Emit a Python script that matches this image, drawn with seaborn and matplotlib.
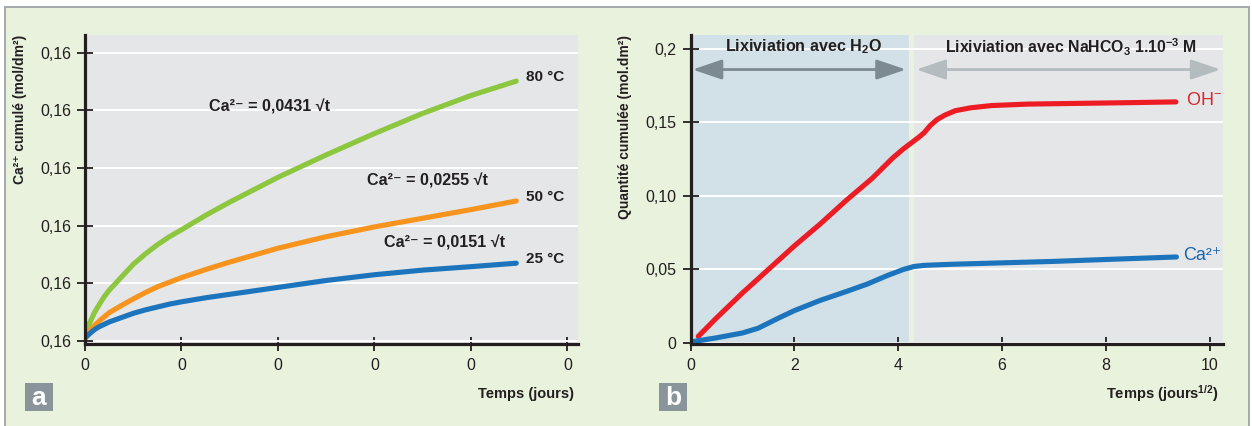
import matplotlib
matplotlib.use("Agg")
import pandas as pd
import seaborn as sns
import matplotlib.pyplot as plt
from matplotlib.patches import Rectangle, FancyArrowPatch

# ---- panel a : cumulated Ca2+ vs time, three temperatures
temps_a = [0, 0.05, 0.1, 0.15, 0.2, 0.25, 0.35, 0.5, 0.625, 0.75, 0.875, 1.0, 1.25,
           1.5, 2.0, 2.5, 3.0, 3.5, 4.0, 4.47]
ca_80 = [0.14, 0.32, 0.5, 0.64, 0.77, 0.88, 1.06, 1.33, 1.51, 1.67, 1.81, 1.93, 2.18,
         2.41, 2.84, 3.23, 3.6, 3.95, 4.26, 4.51]
ca_50 = [0.1, 0.18, 0.27, 0.35, 0.42, 0.49, 0.59, 0.73, 0.84, 0.94, 1.02, 1.1, 1.24,
         1.37, 1.61, 1.81, 1.98, 2.13, 2.28, 2.43]
ca_25 = [0.05, 0.13, 0.2, 0.25, 0.29, 0.33, 0.39, 0.48, 0.54, 0.59, 0.64, 0.68, 0.75,
         0.81, 0.93, 1.05, 1.15, 1.23, 1.29, 1.35]
series_a = ["80 °C", "50 °C", "25 °C"]
equations_a = ["Ca²⁻ = 0,0431 √t", "Ca²⁻ = 0,0255 √t", "Ca²⁻ = 0,0151 √t"]
xticks_a = [0, 1, 2, 3, 4, 5]
xticklabels_a = ["0", "0", "0", "0", "0", "0"]
yticks_a = [0, 1, 2, 3, 4, 5]
yticklabels_a = ["0,16", "0,16", "0,16", "0,16", "0,16", "0,16"]

# ---- panel b : OH- and Ca2+ vs sqrt(time)
temps_oh = [0.15, 0.5, 1.0, 1.5, 2.0, 2.5, 3.0, 3.5, 3.9, 4.1, 4.25, 4.4, 4.5, 4.62,
            4.75, 4.9, 5.1, 5.4, 5.8, 6.5, 7.5, 8.5, 9.35]
oh = [0.0045, 0.017, 0.034, 0.05, 0.066, 0.081, 0.097, 0.112, 0.126, 0.132, 0.136,
      0.14, 0.143, 0.148, 0.152, 0.155, 0.158, 0.16, 0.1615, 0.1625, 0.163, 0.1635, 0.164]
temps_ca = [0, 0.5, 1.0, 1.3, 1.7, 2.0, 2.5, 3.0, 3.4, 3.8, 4.1, 4.3, 4.5, 5.0, 6.0,
            7.0, 8.0, 9.36]
ca = [0.0007, 0.0035, 0.0068, 0.01, 0.017, 0.022, 0.029, 0.035, 0.04, 0.046, 0.05,
      0.052, 0.0528, 0.0535, 0.0545, 0.0555, 0.0568, 0.0585]
phase_end = 4.21
phase2_start = 4.30
xticks_b = [0, 2, 4, 6, 8, 10]
yticks_b = [0, 0.05, 0.10, 0.15, 0.2]
yticklabels_b = ["0", "0,05", "0,10", "0,15", "0,2"]

GREEN_BG = "#e9f2dd"
PLOT_BG = "#e5e6e8"
BLUE_BG = "#d2e0e7"
DARK = "#231f20"
colors_a = {"80 °C": "#8dc63f", "50 °C": "#f7941d", "25 °C": "#1c75bc"}
FAM = ["Liberation Sans", "DejaVu Sans"]

sns.set_style("ticks")
plt.rcParams["font.family"] = FAM
plt.rcParams["mathtext.default"] = "regular"

W, H = 1252, 426
fig = plt.figure(figsize=(W / 100, H / 100), dpi=100, facecolor="white")

# outer frame
fig.patches.append(Rectangle((5 / W, -0.05), (1249 - 5) / W, 1.05 - 7 / H,
                             transform=fig.transFigure, facecolor=GREEN_BG,
                             edgecolor="#9ea3a6", linewidth=1.3, zorder=-5))


def style_axes(ax):
    ax.set_facecolor(PLOT_BG)
    for side in ("top", "right"):
        ax.spines[side].set_visible(False)
    for side in ("left", "bottom"):
        ax.spines[side].set_linewidth(2.3)
        ax.spines[side].set_color(DARK)
        ax.spines[side].set_zorder(5)
    ax.yaxis.grid(True, color="white", linewidth=1.4)
    ax.xaxis.grid(False)
    ax.set_axisbelow(True)
    ax.tick_params(axis="y", direction="inout", length=12, width=1.3, color=DARK,
                   pad=4, labelsize=11.5, labelcolor=DARK)
    ax.tick_params(axis="x", direction="inout", length=10, width=1.3, color=DARK,
                   pad=5, labelsize=11.5, labelcolor=DARK)
    ax.set_xlabel("")
    ax.set_ylabel("")


# ---- panel a
ax_a = fig.add_axes([85 / W, 1 - 344 / H, (578 - 85) / W, (344 - 35) / H])
df_a = pd.DataFrame({
    "t": temps_a * 3,
    "val": ca_80 + ca_50 + ca_25,
    "serie": [s for s in series_a for _ in temps_a],
})
sns.lineplot(data=df_a, x="t", y="val", hue="serie", palette=colors_a, linewidth=3.7,
             legend=False, estimator=None, sort=False, ax=ax_a)
style_axes(ax_a)
ax_a.set_xlim(0, 5.11)
ax_a.set_ylim(-0.052, 5.31)
ax_a.set_xticks(xticks_a, xticklabels_a)
ax_a.set_yticks(yticks_a, yticklabels_a)

ends_a = [ca_80[-1], ca_50[-1], ca_25[-1]]
for name, y in zip(series_a, ends_a):
    ax_a.text(4.57, y + 0.07, name, fontsize=11, fontweight="bold", color=DARK,
              ha="left", va="center")
eq_pos = [(1.29, 4.06), (2.92, 2.78), (3.10, 1.70)]
for txt, (x, y) in zip(equations_a, eq_pos):
    ax_a.text(x, y, txt, fontsize=11.6, fontweight="bold", color=DARK, ha="left", va="center")

fig.text(20 / W, 1 - 35 / H, "Ca²⁺ cumulé (mol/dm²)", rotation=90,
         ha="center", va="top", fontsize=10, fontweight="bold", color=DARK)
fig.text(574 / W, 1 - 394 / H, "Temps (jours)", ha="right", va="center",
         fontsize=10.5, fontweight="bold", color=DARK)

# ---- panel b
ax_b = fig.add_axes([690.5 / W, 1 - 344 / H, (1222.6 - 690.5) / W, (344 - 35) / H])
ax_b.axvspan(0, phase_end, color=BLUE_BG, zorder=0.1, linewidth=0)
ax_b.axvspan(phase_end, phase2_start, color=GREEN_BG, zorder=0.1, linewidth=0)
df_b = pd.DataFrame({
    "t": temps_oh + temps_ca,
    "val": oh + ca,
    "serie": ["OH"] * len(temps_oh) + ["Ca"] * len(temps_ca),
})
sns.lineplot(data=df_b, x="t", y="val", hue="serie",
             palette={"OH": "#ed1c24", "Ca": "#1c75bc"}, linewidth=3.7,
             legend=False, estimator=None, sort=False, ax=ax_b)
style_axes(ax_b)
ax_b.set_xlim(0, 10.25)
ax_b.set_ylim(-0.0007, 0.2095)
ax_b.set_xticks(xticks_b, [str(v) for v in xticks_b])
ax_b.set_yticks(yticks_b, yticklabels_b)

ax_b.text(9.55, oh[-1] + 0.001, r"OH$^{-}$", fontsize=13, color="#d7262c",
          ha="left", va="center")
ax_b.text(9.49, ca[-1] + 0.001, "Ca²⁺", fontsize=13, color="#1b64ad",
          ha="left", va="center")

ax_b.text(2.18, 0.2014, r"Lixiviation avec H$_2$O", fontsize=11.6, fontweight="bold",
          color=DARK, ha="center", va="center")
ax_b.text(7.33, 0.2014, r"Lixiviation avec NaHCO$_3$ 1.10$^{-3}$ M", fontsize=11.4,
          fontweight="bold", color=DARK, ha="center", va="center")

for x0, x1, col in [(0.04, 4.15, "#7d8a92"), (4.35, 10.21, "#b4bcc0")]:
    ax_b.add_patch(FancyArrowPatch((x0, 0.186), (x1, 0.186),
                                   arrowstyle="<|-|>,head_length=1.0,head_width=0.34",
                                   mutation_scale=18, color=col, linewidth=2.0,
                                   shrinkA=0, shrinkB=0, zorder=3))

fig.text(625 / W, 1 - 35 / H, "Quantité cumulée (mol.dm²)", rotation=90,
         ha="center", va="top", fontsize=10, fontweight="bold", color=DARK)
fig.text(1219 / W, 1 - 394 / H, r"Temps (jours$^{1/2}$)", ha="right", va="center",
         fontsize=10.5, fontweight="bold", color=DARK)

# panel letters
for letter, x0 in [("a", 24.5), ("b", 659)]:
    fig.patches.append(Rectangle((x0 / W, 1 - 411 / H), 28 / W, 28 / H,
                                 transform=fig.transFigure, facecolor="#8a949b",
                                 edgecolor="none", zorder=1))
    fig.text((x0 + 14) / W, 1 - 398 / H, letter, ha="center", va="center",
             fontsize=19, fontweight="bold", color="white")

fig.savefig("out.png", dpi=100, facecolor=fig.get_facecolor())
